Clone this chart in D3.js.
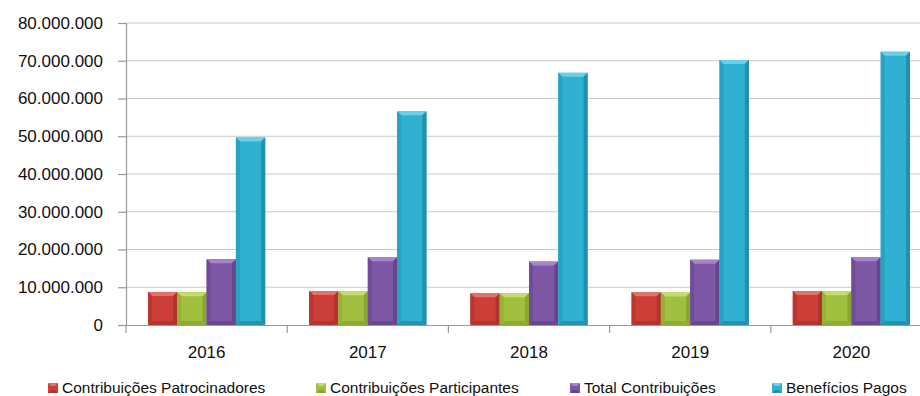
<!DOCTYPE html>
<html>
<head>
<meta charset="utf-8">
<script src="https://cdn.jsdelivr.net/npm/d3@7"></script>
<style>
  html, body { margin: 0; padding: 0; background: #fff; }
  svg { display: block; font-family: "Liberation Sans", Arial, sans-serif; }
</style>
</head>
<body>
<svg id="chart" width="920" height="396"></svg>
<script>
// Contribuições e benefícios por ano (R$)
const years = ["2016", "2017", "2018", "2019", "2020"];
const seriesNames = ["Contribuições Patrocinadores", "Contribuições Participantes", "Total Contribuições", "Benefícios Pagos"];
const patrocinadores = [8750000, 9000000, 8400000, 8660000, 9000000];
const participantes  = [8700000, 8950000, 8400000, 8640000, 8950000];
const totalContrib   = [17450000, 17950000, 16800000, 17300000, 17950000];
const beneficios     = [49700000, 56600000, 66800000, 70200000, 72400000];
const yTicks = [0, 10000000, 20000000, 30000000, 40000000, 50000000, 60000000, 70000000, 80000000];

const seriesValues = [patrocinadores, participantes, totalContrib, beneficios];
const palette = [
  { face: "#cc3e38", light: "#e0716b", left: "#bd3531", right: "#ae322d", bottom: "#b3342f" },
  { face: "#a2c040", light: "#c3dc6c", left: "#95b236", right: "#8aa631", bottom: "#8fab33" },
  { face: "#7e58a7", light: "#a685cb", left: "#714d98", right: "#66458b", bottom: "#6a488f" },
  { face: "#30b1d1", light: "#66d1ea", left: "#27a2c1", right: "#2190ad", bottom: "#2393b0" }
];

const svg = d3.select("#chart");
const margin = { left: 126, top: 23, bottom: 71 };
const plotRight = 932;
const height = 396;
const y0 = height - margin.bottom;

const x = d3.scaleBand().domain(years).range([margin.left, plotRight]).paddingInner(0).paddingOuter(0);
// 150% gap between groups of four bars
const inner = d3.scaleBand().domain(d3.range(seriesNames.length))
  .range([0, x.bandwidth()]).paddingInner(0).paddingOuter(0.75);
const y = d3.scaleLinear().domain([0, 80000000]).range([y0, margin.top]);

const fmt = v => d3.format(",")(v).replace(/,/g, ".");

// horizontal gridlines
svg.append("g").selectAll("line").data(yTicks.slice(1)).join("line")
  .attr("x1", margin.left).attr("x2", 920)
  .attr("y1", d => y(d)).attr("y2", d => y(d))
  .attr("stroke", "#cacaca").attr("stroke-width", 1.2);

// y axis
const yAxis = svg.append("g").attr("transform", `translate(${margin.left},0)`)
  .call(d3.axisLeft(y).tickValues(yTicks).tickFormat(fmt).tickSize(8).tickPadding(15));
yAxis.select(".domain").attr("stroke", "#9a9a9a").attr("stroke-width", 1.2);
yAxis.selectAll(".tick line").attr("stroke", "#9a9a9a").attr("stroke-width", 1.2);
yAxis.selectAll("text").attr("font-size", 17).attr("fill", "#111")
  .attr("font-family", "'Liberation Sans', Arial, sans-serif");

// bars with bevelled edges
const pts = arr => arr.map(p => p.join(",")).join(" ");
const bars = svg.append("g");
years.forEach((yr, i) => {
  seriesValues.forEach((vals, s) => {
    const v = vals[i];
    const bx = x(yr) + inner(s);
    const bw = inner.bandwidth();
    const by = y(v);
    const bh = y0 - by;
    const c = palette[s];
    const b = Math.min(4, bh / 2);
    const g = bars.append("g");
    g.append("rect").attr("x", bx).attr("y", by).attr("width", bw).attr("height", bh).attr("fill", c.face);
    // top bevel
    g.append("polygon").attr("points", pts([[bx, by], [bx + bw, by], [bx + bw - b, by + b], [bx + b, by + b]]))
      .attr("fill", c.light);
    // left bevel
    g.append("polygon").attr("points", pts([[bx, by], [bx + b, by + b], [bx + b, by + bh - b], [bx, by + bh]]))
      .attr("fill", c.left);
    // right bevel
    g.append("polygon").attr("points", pts([[bx + bw, by], [bx + bw, by + bh], [bx + bw - b, by + bh - b], [bx + bw - b, by + b]]))
      .attr("fill", c.right);
    // bottom bevel
    g.append("polygon").attr("points", pts([[bx, by + bh], [bx + b, by + bh - b], [bx + bw - b, by + bh - b], [bx + bw, by + bh]]))
      .attr("fill", c.bottom);
  });
});

// x axis
const xAxis = svg.append("g").attr("transform", `translate(0,${y0})`)
  .call(d3.axisBottom(x).tickSize(0).tickPadding(21));
xAxis.select(".domain").attr("stroke", "#9a9a9a").attr("stroke-width", 1.2);
xAxis.selectAll("text").attr("font-size", 17).attr("fill", "#111")
  .attr("font-family", "'Liberation Sans', Arial, sans-serif");
// category boundary ticks
svg.append("g").selectAll("line").data(years).join("line")
  .attr("x1", d => x(d)).attr("x2", d => x(d))
  .attr("y1", y0).attr("y2", y0 + 8)
  .attr("stroke", "#9a9a9a").attr("stroke-width", 1.2);

// legend
const legendX = [48, 316, 570, 772];
const legend = svg.append("g");
seriesNames.forEach((name, s) => {
  const c = palette[s];
  const lx = legendX[s], ly = 383;
  legend.append("rect").attr("x", lx).attr("y", ly).attr("width", 10).attr("height", 10).attr("fill", c.face);
  legend.append("polygon").attr("points", pts([[lx, ly], [lx + 10, ly], [lx + 7, ly + 3], [lx + 3, ly + 3]])).attr("fill", c.light);
  legend.append("polygon").attr("points", pts([[lx, ly + 10], [lx + 10, ly + 10], [lx + 7, ly + 7], [lx + 3, ly + 7]])).attr("fill", c.right);
  legend.append("text").attr("x", lx + 14).attr("y", ly + 10)
    .attr("font-size", 15.5).attr("fill", "#111").text(name);
});
</script>
</body>
</html>
